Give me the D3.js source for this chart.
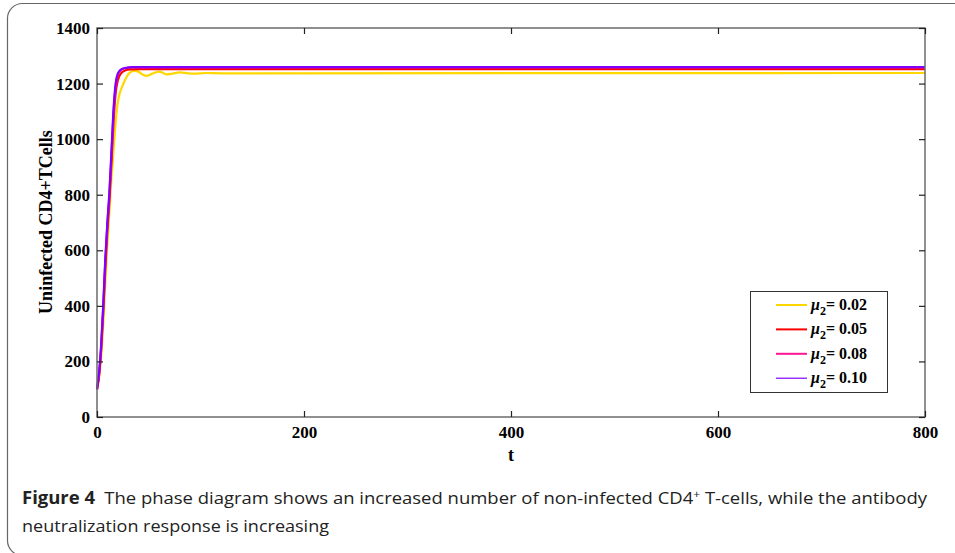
<!DOCTYPE html>
<html><head><meta charset="utf-8">
<script src="https://cdn.jsdelivr.net/npm/d3@7"></script>
<style>body{margin:0;background:#fff}svg{display:block}</style>
</head><body>
<svg id="c" width="955" height="553"></svg>
<script>
const xTicks = [0, 200, 400, 600, 800];
const yTicks = [0, 200, 400, 600, 800, 1000, 1200, 1400];
const seriesNames = ["0.02", "0.05", "0.08", "0.10"];
const seriesColors = ["#FFD700", "#FF0000", "#FF1493", "#8000FF"];
const tYellow = [0,2,4,6,8,10,12,14,16,18,20,22,25,28,32,36,40,44,48,53,60,64,67,73,80,88,95,105,120,800];
const vYellow = [100,140,215,330,480,620,740,860,960,1060,1130,1165,1195,1220,1240,1246,1243,1233,1228,1235,1243,1238,1233,1236,1240,1237,1236,1238,1237,1238];
const tRed = [0,2,4,6,8,10,12,14,16,18,20,23,27,32,40,800];
const vRed = [100,150,240,375,535,670,780,920,1065,1165,1210,1236,1247,1251,1252,1252];
const tMagenta = [0,2,4,6,8,10,12,14,16,18,20,23,27,35,800];
const vMagenta = [100,155,250,390,555,690,800,945,1095,1190,1230,1248,1255,1258,1258];
const tPurple = [0,2,4,6,8,10,12,14,16,18,20,23,27,35,800];
const vPurple = [100,160,260,400,570,700,810,960,1110,1200,1235,1250,1256,1259,1259];

const series = [
  {t: tYellow, v: vYellow},
  {t: tRed, v: vRed},
  {t: tMagenta, v: vMagenta},
  {t: tPurple, v: vPurple}
].map((s, i) => ({name: seriesNames[i], color: seriesColors[i], pts: s.t.map((t, j) => [t, s.v[j]])}));

const svg = d3.select("#c");
svg.append("rect").attr("x", 7.5).attr("y", 3.5).attr("width", 980).attr("height", 552)
  .attr("rx", 15).attr("fill", "none").attr("stroke", "#666").attr("stroke-width", 1.2);

const L = 97, R = 925, T = 28, B = 417;
const x = d3.scaleLinear().domain([0, 800]).range([L, R]);
const y = d3.scaleLinear().domain([0, 1400]).range([B, T]);

const font = "'Liberation Serif','Times New Roman',serif";
const g = svg.append("g");

const line = d3.line().x(d => x(d[0])).y(d => y(d[1])).curve(d3.curveMonotoneX);
series.forEach(s => {
  g.append("path").datum(s.pts).attr("d", line).attr("fill", "none")
    .attr("stroke", s.color).attr("stroke-width", 2.2);
});

g.append("rect").attr("x", L).attr("y", T).attr("width", R - L).attr("height", B - T)
  .attr("fill", "none").attr("stroke", "#6b6b6b").attr("stroke-width", 1.5);

const fmt = d3.format("d");
const axL = d3.axisLeft(y).tickValues(yTicks).tickFormat(fmt).tickSizeInner(-6).tickSizeOuter(0).tickPadding(7);
const axR = d3.axisRight(y).tickValues(yTicks).tickSizeInner(-6).tickSizeOuter(0).tickFormat("");
const axB = d3.axisBottom(x).tickValues(xTicks).tickFormat(fmt).tickSizeInner(-6).tickSizeOuter(0).tickPadding(9);
const axT = d3.axisTop(x).tickValues(xTicks).tickSizeInner(-6).tickSizeOuter(0).tickFormat("");
function styleAx(sel) {
  sel.attr("font-size", null).attr("font-family", null);
  sel.select(".domain").remove();
  sel.selectAll(".tick line").attr("stroke", "#222").attr("stroke-width", 1.2);
  sel.selectAll("text").attr("font-family", font).attr("font-weight", "bold")
    .attr("font-size", 17).attr("fill", "#000");
}
g.append("g").attr("transform", `translate(${L},0)`).call(axL).call(styleAx);
g.append("g").attr("transform", `translate(${R},0)`).call(axR).call(styleAx);
g.append("g").attr("transform", `translate(0,${B})`).call(axB).call(styleAx);
g.append("g").attr("transform", `translate(0,${T})`).call(axT).call(styleAx);

svg.append("text").attr("x", 511).attr("y", 461).attr("text-anchor", "middle")
  .attr("font-family", font).attr("font-weight", "bold").attr("font-size", 18).text("t");
svg.append("text").attr("transform", "translate(52,222) rotate(-90)").attr("text-anchor", "middle")
  .attr("font-family", font).attr("font-weight", "bold").attr("font-size", 18)
  .text("Uninfected CD4+TCells");

const lg = svg.append("g");
lg.append("rect").attr("x", 750.5).attr("y", 291.5).attr("width", 137).attr("height", 101)
  .attr("fill", "#fff").attr("stroke", "#333").attr("stroke-width", 1);
series.forEach((s, i) => {
  const yy = 305 + i * 24.4;
  lg.append("line").attr("x1", 776).attr("x2", 807).attr("y1", yy).attr("y2", yy)
    .attr("stroke", s.color).attr("stroke-width", i === 3 ? 1.2 : 2);
  const t = lg.append("text").attr("x", 811).attr("y", yy + 5)
    .attr("font-family", font).attr("font-weight", "bold").attr("font-size", 16);
  t.append("tspan").attr("font-style", "italic").text("μ");
  t.append("tspan").attr("font-size", 12).attr("dy", 5).text("2");
  t.append("tspan").attr("dy", -5).text("= " + s.name);
});

const cf = "'Open Sans','Noto Sans',sans-serif";
const c1 = svg.append("text").attr("x", 22).attr("y", 504).attr("font-family", cf)
  .attr("font-size", 17).attr("fill", "#222").attr("textLength", 905).attr("lengthAdjust", "spacingAndGlyphs");
c1.append("tspan").attr("font-weight", "bold").text("Figure 4");
c1.append("tspan").text("\u2002The phase diagram shows an increased number of non-infected CD4");
c1.append("tspan").attr("font-size", 11).attr("dy", -6).text("+");
c1.append("tspan").attr("dy", 6).text(" T-cells, while the antibody");
svg.append("text").attr("x", 22).attr("y", 532).attr("font-family", cf)
  .attr("font-size", 17).attr("fill", "#222").attr("textLength", 307).attr("lengthAdjust", "spacingAndGlyphs")
  .text("neutralization response is increasing");
</script>
</body></html>
